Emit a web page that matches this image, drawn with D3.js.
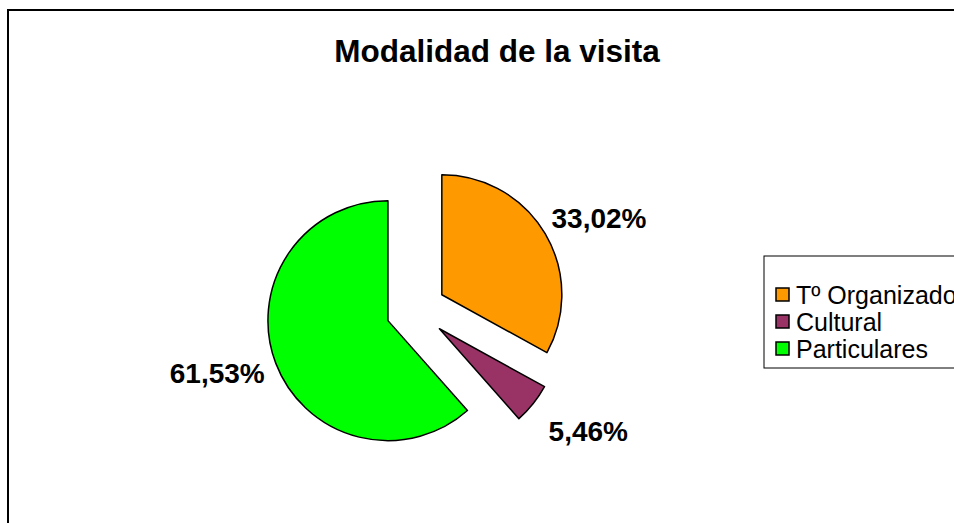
<!DOCTYPE html>
<html>
<head>
<meta charset="utf-8">
<script src="https://cdn.jsdelivr.net/npm/d3@7"></script>
<style>
  html, body { margin: 0; padding: 0; background: #fff; overflow: hidden; }
  svg { display: block; font-family: "Liberation Sans", Arial, sans-serif; }
</style>
</head>
<body>
<svg id="chart" width="954" height="523"></svg>
<script>
const title = "Modalidad de la visita";
const categories = ["Tº Organizado", "Cultural", "Particulares"];
const values = [33.02, 5.46, 61.53];
const labels = ["33,02%", "5,46%", "61,53%"];
const colors = ["#FF9900", "#993366", "#00FF00"];

const svg = d3.select("#chart");

// outer chart border (extends past the viewport on the right/bottom)
svg.append("rect")
  .attr("x", 8).attr("y", 10)
  .attr("width", 980).attr("height", 540)
  .attr("fill", "#fff")
  .attr("stroke", "#000").attr("stroke-width", 2);

svg.append("text")
  .attr("x", 497).attr("y", 62)
  .attr("text-anchor", "middle")
  .attr("font-size", 31.5).attr("font-weight", "bold")
  .text(title);

const cx = 416, cy = 310, radius = 120, explode = 30;
const labelGap = 135;          // distance from slice apex to label anchor
const labelExtra = [0, 16, 0]; // extra push for crowded labels

const pie = d3.pie().sort(null).value(d => d)
  .startAngle(0).endAngle(2 * Math.PI);
const arcs = pie(values);
const arc = d3.arc().innerRadius(0).outerRadius(radius);

const g = svg.append("g").attr("transform", `translate(${cx},${cy})`);

arcs.forEach((a, i) => {
  const mid = (a.startAngle + a.endAngle) / 2;
  const sx = Math.sin(mid), sy = -Math.cos(mid);
  const dx = sx * explode, dy = sy * explode;
  g.append("path")
    .attr("d", arc(a))
    .attr("transform", `translate(${dx},${dy})`)
    .attr("fill", colors[i])
    .attr("stroke", "#000")
    .attr("stroke-width", 1.5)
    .attr("stroke-linejoin", "round");
  const t = g.append("text")
    .attr("text-anchor", "middle")
    .attr("dominant-baseline", "central")
    .attr("font-size", 28).attr("font-weight", "bold")
    .text(labels[i]);
  const bb = t.node().getBBox();
  const r = labelGap + labelExtra[i];
  const lx = dx + sx * r + sx * bb.width / 2;
  const ly = dy + sy * r + sy * 14;
  t.attr("x", lx).attr("y", ly);
});

// legend
const lx = 764, ly = 256, lh = 112;
svg.append("rect")
  .attr("x", lx).attr("y", ly)
  .attr("width", 220).attr("height", lh)
  .attr("fill", "#fff").attr("stroke", "#000").attr("stroke-width", 1);

const legY = d3.scalePoint().domain(categories).range([ly + 38, ly + 92]);
categories.forEach((c, i) => {
  const y = legY(c);
  svg.append("rect")
    .attr("x", lx + 12).attr("y", y - 6)
    .attr("width", 13).attr("height", 13)
    .attr("fill", colors[i]).attr("stroke", "#000").attr("stroke-width", 1.5);
  svg.append("text")
    .attr("x", lx + 32).attr("y", y + 1)
    .attr("dominant-baseline", "central")
    .attr("font-size", 25)
    .text(c);
});
</script>
</body>
</html>
